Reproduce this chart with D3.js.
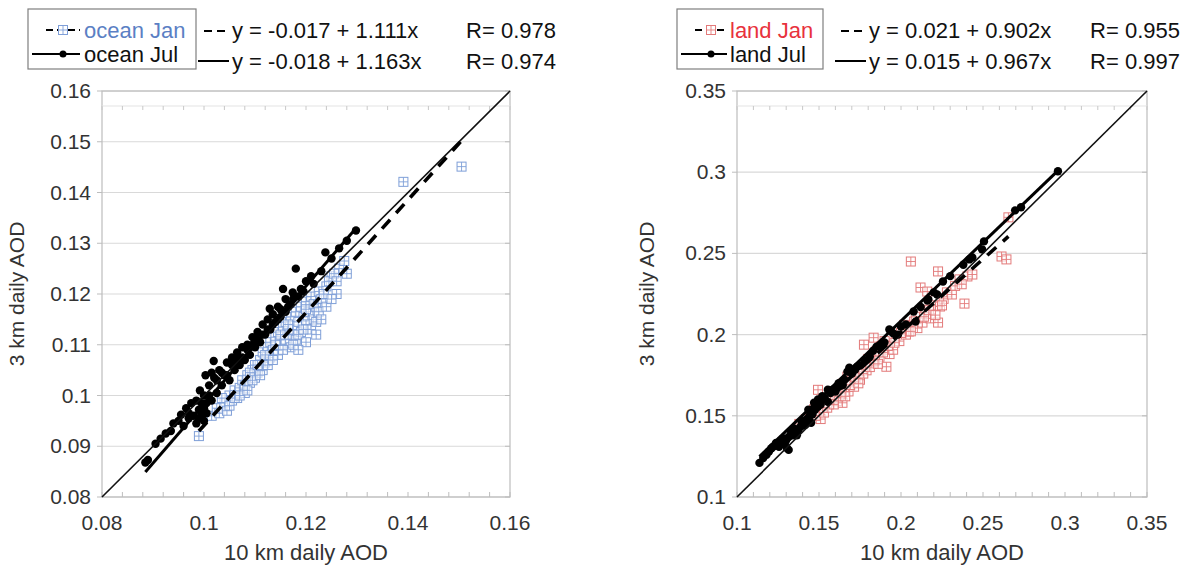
<!DOCTYPE html>
<html>
<head>
<meta charset="utf-8">
<script src="https://cdn.jsdelivr.net/npm/d3@7"></script>
<style>
  body { margin: 0; background: #fff; }
  svg { font-family: "Liberation Sans", Arial, sans-serif; }
</style>
</head>
<body>
<svg id="chart" width="1187" height="568"></svg>
<script>
// ocean, January (x = 10 km AOD, y = 3 km AOD)
const oceanJan = [
  [0.0990, 0.0920], [0.1015, 0.0960], [0.1025, 0.0975], [0.1030, 0.0965], [0.1040, 0.0985],
  [0.1045, 0.0970], [0.1050, 0.1000], [0.1055, 0.0990], [0.1060, 0.1010], [0.1065, 0.0995],
  [0.1070, 0.1015], [0.1075, 0.1030], [0.1080, 0.1005], [0.1085, 0.1040], [0.1090, 0.1025],
  [0.1095, 0.1050], [0.1100, 0.1035], [0.1100, 0.1060], [0.1105, 0.1045], [0.1110, 0.1070],
  [0.1115, 0.1050], [0.1115, 0.1085], [0.1120, 0.1065], [0.1125, 0.1095], [0.1130, 0.1075],
  [0.1130, 0.1105], [0.1135, 0.1090], [0.1140, 0.1115], [0.1145, 0.1080], [0.1145, 0.1125],
  [0.1150, 0.1100], [0.1155, 0.1135], [0.1160, 0.1110], [0.1160, 0.1145], [0.1165, 0.1120],
  [0.1170, 0.1155], [0.1170, 0.1095], [0.1175, 0.1130], [0.1180, 0.1165], [0.1180, 0.1110],
  [0.1185, 0.1145], [0.1190, 0.1175], [0.1190, 0.1125], [0.1195, 0.1155], [0.1200, 0.1185],
  [0.1200, 0.1140], [0.1205, 0.1165], [0.1210, 0.1195], [0.1210, 0.1130], [0.1215, 0.1150],
  [0.1220, 0.1175], [0.1225, 0.1205], [0.1230, 0.1190], [0.1240, 0.1215], [0.1250, 0.1235],
  [0.1260, 0.1200], [0.1265, 0.1250], [0.1275, 0.1265], [0.1280, 0.1240], [0.1391, 0.1421],
  [0.1505, 0.1451], [0.1035, 0.0995], [0.1050, 0.0980], [0.1060, 0.0995], [0.1070, 0.1000],
  [0.1080, 0.1020], [0.1085, 0.1010], [0.1090, 0.1045], [0.1095, 0.1030], [0.1105, 0.1060],
  [0.1110, 0.1040], [0.1120, 0.1080], [0.1125, 0.1060], [0.1135, 0.1070], [0.1140, 0.1100],
  [0.1150, 0.1120], [0.1155, 0.1090], [0.1165, 0.1140], [0.1175, 0.1100], [0.1185, 0.1120],
  [0.1195, 0.1130], [0.1200, 0.1170], [0.1215, 0.1180], [0.1220, 0.1145], [0.1225, 0.1165],
  [0.1235, 0.1200], [0.1245, 0.1225], [0.1255, 0.1240], [0.1260, 0.1225], [0.1230, 0.1150],
  [0.1220, 0.1120], [0.1200, 0.1105], [0.1185, 0.1090], [0.1240, 0.1175], [0.1250, 0.1190]
];
// ocean, July
const oceanJul = [
  [0.0885, 0.0868], [0.0890, 0.0873], [0.0905, 0.0905], [0.0915, 0.0915], [0.0925, 0.0925],
  [0.0935, 0.0930], [0.0940, 0.0945], [0.0950, 0.0950], [0.0955, 0.0962], [0.0960, 0.0940],
  [0.0965, 0.0975], [0.0970, 0.0955], [0.0975, 0.0985], [0.0980, 0.0960], [0.0985, 0.0990],
  [0.0990, 0.0972], [0.0992, 0.1010], [0.0995, 0.0985], [0.1000, 0.1000], [0.1000, 0.0950],
  [0.1003, 0.1040], [0.1005, 0.0965], [0.1010, 0.1020], [0.1015, 0.0990], [0.1019, 0.1068],
  [0.1020, 0.1035], [0.1025, 0.1005], [0.1030, 0.1050], [0.1035, 0.1020], [0.1040, 0.1040],
  [0.1045, 0.1065], [0.1050, 0.1030], [0.1055, 0.1075], [0.1060, 0.1050], [0.1065, 0.1085],
  [0.1070, 0.1060], [0.1075, 0.1095], [0.1080, 0.1070], [0.1085, 0.1100], [0.1090, 0.1080],
  [0.1095, 0.1115], [0.1100, 0.1095], [0.1105, 0.1125], [0.1110, 0.1105], [0.1115, 0.1140],
  [0.1120, 0.1120], [0.1125, 0.1150], [0.1129, 0.1171], [0.1130, 0.1130], [0.1135, 0.1160],
  [0.1140, 0.1145], [0.1145, 0.1175], [0.1150, 0.1155], [0.1155, 0.1210], [0.1160, 0.1165],
  [0.1170, 0.1180], [0.1174, 0.1203], [0.1180, 0.1250], [0.1190, 0.1210], [0.1200, 0.1225],
  [0.1210, 0.1235], [0.1238, 0.1282], [0.1250, 0.1270], [0.1298, 0.1325], [0.0970, 0.0965],
  [0.0985, 0.0945], [0.0990, 0.0955], [0.0995, 0.0960], [0.1000, 0.0975], [0.1005, 0.0985],
  [0.1010, 0.1000], [0.1015, 0.1045], [0.1025, 0.1030], [0.1035, 0.1045], [0.1045, 0.1040],
  [0.1055, 0.1060], [0.1065, 0.1070], [0.1075, 0.1075], [0.1085, 0.1090], [0.1095, 0.1100],
  [0.1105, 0.1110], [0.1115, 0.1120], [0.1125, 0.1130], [0.1135, 0.1140], [0.1145, 0.1150],
  [0.1150, 0.1170], [0.1160, 0.1190], [0.1165, 0.1175], [0.1175, 0.1190], [0.1185, 0.1195],
  [0.1195, 0.1205], [0.1215, 0.1220], [0.1230, 0.1245], [0.1265, 0.1290], [0.1280, 0.1305]
];
// land, January
const landJan = [
  [0.1380, 0.1450], [0.1420, 0.1480], [0.1450, 0.1510], [0.1470, 0.1540], [0.1494, 0.1660],
  [0.1510, 0.1480], [0.1520, 0.1560], [0.1540, 0.1590], [0.1560, 0.1570], [0.1580, 0.1610],
  [0.1600, 0.1640], [0.1610, 0.1590], [0.1630, 0.1660], [0.1643, 0.1580], [0.1650, 0.1700],
  [0.1673, 0.1741], [0.1680, 0.1650], [0.1700, 0.1720], [0.1714, 0.1679], [0.1730, 0.1760],
  [0.1750, 0.1722], [0.1760, 0.1800], [0.1774, 0.1938], [0.1790, 0.1780], [0.1800, 0.1850],
  [0.1820, 0.1820], [0.1833, 0.1981], [0.1850, 0.1900], [0.1869, 0.1864], [0.1880, 0.1930],
  [0.1900, 0.1960], [0.1911, 0.1802], [0.1930, 0.1880], [0.1952, 0.1907], [0.1970, 0.1990],
  [0.1990, 0.1960], [0.2010, 0.2030], [0.2030, 0.2000], [0.2048, 0.2019], [0.2060, 0.2450],
  [0.2080, 0.2080], [0.2100, 0.2040], [0.2119, 0.2290], [0.2131, 0.2074], [0.2149, 0.2154],
  [0.2160, 0.2265], [0.2180, 0.2100], [0.2200, 0.2180], [0.2226, 0.2389], [0.2226, 0.2074],
  [0.2238, 0.2173], [0.2260, 0.2220], [0.2280, 0.2260], [0.2310, 0.2247], [0.2357, 0.2340],
  [0.2387, 0.2191], [0.2405, 0.2358], [0.2435, 0.2370], [0.2613, 0.2481], [0.2643, 0.2463],
  [0.2655, 0.2722], [0.1440, 0.1470], [0.1480, 0.1500], [0.1500, 0.1530], [0.1530, 0.1520],
  [0.1550, 0.1550], [0.1570, 0.1600], [0.1590, 0.1570], [0.1620, 0.1620], [0.1640, 0.1640],
  [0.1660, 0.1620], [0.1690, 0.1690], [0.1720, 0.1740], [0.1740, 0.1700], [0.1770, 0.1760],
  [0.1810, 0.1800], [0.1840, 0.1840], [0.1860, 0.1820], [0.1890, 0.1890], [0.1920, 0.1930],
  [0.1960, 0.1950], [0.2000, 0.2010], [0.2020, 0.2060], [0.2060, 0.2020], [0.2090, 0.2110],
  [0.2140, 0.2110], [0.2170, 0.2150], [0.2210, 0.2120], [0.2250, 0.2180], [0.2330, 0.2300],
  [0.2370, 0.2310]
];
// land, July
const landJul = [
  [0.1137, 0.1210], [0.1180, 0.1260], [0.1210, 0.1300], [0.1238, 0.1333], [0.1256, 0.1309],
  [0.1270, 0.1350], [0.1290, 0.1330], [0.1304, 0.1302], [0.1315, 0.1370], [0.1315, 0.1290],
  [0.1340, 0.1380], [0.1357, 0.1395], [0.1375, 0.1414], [0.1387, 0.1432], [0.1400, 0.1440],
  [0.1417, 0.1444], [0.1430, 0.1480], [0.1435, 0.1537], [0.1452, 0.1457], [0.1460, 0.1510],
  [0.1476, 0.1537], [0.1494, 0.1556], [0.1494, 0.1600], [0.1520, 0.1620], [0.1554, 0.1660],
  [0.1554, 0.1586], [0.1583, 0.1660], [0.1613, 0.1673], [0.1631, 0.1685], [0.1655, 0.1722],
  [0.1673, 0.1772], [0.1685, 0.1796], [0.1720, 0.1784], [0.1732, 0.1802], [0.1780, 0.1840],
  [0.1810, 0.1864], [0.1851, 0.1926], [0.1899, 0.1951], [0.1929, 0.2031], [0.1982, 0.2000],
  [0.2030, 0.2062], [0.2077, 0.2142], [0.2089, 0.2080], [0.2161, 0.2210], [0.2167, 0.2216],
  [0.2220, 0.2247], [0.2256, 0.2327], [0.2417, 0.2463], [0.2435, 0.2475], [0.2494, 0.2525],
  [0.2506, 0.2574], [0.2696, 0.2765], [0.2732, 0.2784], [0.2957, 0.3006], [0.1160, 0.1240],
  [0.1195, 0.1280], [0.1220, 0.1310], [0.1250, 0.1330], [0.1280, 0.1360], [0.1300, 0.1350],
  [0.1330, 0.1400], [0.1350, 0.1420], [0.1365, 0.1380], [0.1395, 0.1460], [0.1410, 0.1470],
  [0.1445, 0.1500], [0.1470, 0.1580], [0.1510, 0.1570], [0.1535, 0.1610], [0.1570, 0.1640],
  [0.1600, 0.1650], [0.1620, 0.1700], [0.1645, 0.1690], [0.1700, 0.1760], [0.1750, 0.1810],
  [0.1830, 0.1900], [0.1870, 0.1930], [0.1950, 0.2010], [0.2000, 0.2050], [0.2120, 0.2170],
  [0.2200, 0.2260], [0.2300, 0.2360], [0.2380, 0.2430]
];

// fit: [intercept, slope, R]
const oceanJanFit = [-0.017, 1.111, 0.978];
const oceanJulFit = [-0.018, 1.163, 0.974];
const landJanFit = [0.021, 0.902, 0.955];
const landJulFit = [0.015, 0.967, 0.997];

const oceanTicksX = [0.08, 0.1, 0.12, 0.14, 0.16];
const oceanTicksY = [0.08, 0.09, 0.1, 0.11, 0.12, 0.13, 0.14, 0.15, 0.16];
const landTicks = [0.1, 0.15, 0.2, 0.25, 0.3, 0.35];

const svg = d3.select('#chart');
const gridCol = '#d9d9d9', frameCol = '#bdbdbd';

function drawPanel(cfg) {
  let x = d3.scaleLinear().domain(cfg.domain).range([cfg.left, cfg.right]);
  let y = d3.scaleLinear().domain(cfg.domain).range([cfg.bottom, cfg.top]);
  let g = svg.append('g');

  // grid lines
  g.selectAll('.grid').data(cfg.ticksY).enter().append('line')
    .attr('x1', cfg.left).attr('x2', cfg.right)
    .attr('y1', d => y(d)).attr('y2', d => y(d))
    .attr('stroke', gridCol).attr('stroke-width', 1.2);

  // frame
  g.append('rect')
    .attr('x', cfg.left).attr('y', cfg.top)
    .attr('width', cfg.right - cfg.left).attr('height', cfg.bottom - cfg.top)
    .attr('fill', 'none').attr('stroke', frameCol).attr('stroke-width', 1.2);

  // faint secondary tick line near the top
  let topLine = cfg.top + 15;
  g.append('line')
    .attr('x1', cfg.left).attr('x2', cfg.right)
    .attr('y1', topLine).attr('y2', topLine)
    .attr('stroke', '#e3e3e3').attr('stroke-width', 1);
  let minor = d3.range(cfg.domain[0], cfg.domain[1] + 1e-9, cfg.minorStep);
  g.selectAll('.mt').data(minor).enter().append('line')
    .attr('x1', d => x(d)).attr('x2', d => x(d))
    .attr('y1', topLine).attr('y2', topLine + 4)
    .attr('stroke', '#c8c8c8');
  // bottom minor ticks
  g.selectAll('.mb').data(minor).enter().append('line')
    .attr('x1', d => x(d)).attr('x2', d => x(d))
    .attr('y1', cfg.bottom).attr('y2', cfg.bottom - 5)
    .attr('stroke', frameCol);
  // side ticks at grid lines
  g.selectAll('.ml').data(cfg.ticksY).enter().append('line')
    .attr('x1', cfg.left - 5).attr('x2', cfg.left)
    .attr('y1', d => y(d)).attr('y2', d => y(d))
    .attr('stroke', frameCol);
  g.selectAll('.mr').data(cfg.ticksY).enter().append('line')
    .attr('x1', cfg.right - 5).attr('x2', cfg.right)
    .attr('y1', d => y(d)).attr('y2', d => y(d))
    .attr('stroke', frameCol);

  // tick labels
  let fmt = d3.format('');
  g.selectAll('.tx').data(cfg.ticksX).enter().append('text')
    .attr('x', d => x(d)).attr('y', cfg.bottom + 33)
    .attr('text-anchor', 'middle').attr('font-size', 21).attr('fill', '#333')
    .text(d => fmt(+d.toFixed(3)));
  g.selectAll('.ty').data(cfg.ticksY).enter().append('text')
    .attr('x', cfg.left - 11).attr('y', d => y(d) + 7)
    .attr('text-anchor', 'end').attr('font-size', 21).attr('fill', '#333')
    .text(d => fmt(+d.toFixed(3)));

  // axis titles
  g.append('text')
    .attr('x', (cfg.left + cfg.right) / 2).attr('y', 560)
    .attr('text-anchor', 'middle').attr('font-size', 22).attr('fill', '#333')
    .text('10 km daily AOD');
  g.append('text')
    .attr('transform', `translate(${cfg.yTitleX},${(cfg.top + cfg.bottom) / 2}) rotate(-90)`)
    .attr('text-anchor', 'middle').attr('font-size', 21).attr('fill', '#333')
    .text('3 km daily AOD');

  // Jan squares
  let sq = g.selectAll('.jan').data(cfg.jan).enter().append('g')
    .attr('transform', d => `translate(${x(d[0])},${y(d[1])})`);
  sq.append('rect').attr('x', -4.5).attr('y', -4.5).attr('width', 9).attr('height', 9)
    .attr('fill', '#fff').attr('fill-opacity', 0.6)
    .attr('stroke', cfg.janCol).attr('stroke-width', 1);
  sq.append('path').attr('d', 'M-4.5,0H4.5M0,-4.5V4.5')
    .attr('stroke', cfg.janCol).attr('stroke-width', 0.9);

  // Jul dots
  g.selectAll('.jul').data(cfg.jul).enter().append('circle')
    .attr('cx', d => x(d[0])).attr('cy', d => y(d[1])).attr('r', 4.2)
    .attr('fill', '#000');

  // 1:1 line
  g.append('line')
    .attr('x1', x(cfg.domain[0])).attr('y1', y(cfg.domain[0]))
    .attr('x2', x(cfg.domain[1])).attr('y2', y(cfg.domain[1]))
    .attr('stroke', '#111').attr('stroke-width', 1.6);

  // regression lines
  let fitLine = (pts, fit) => d3.extent(pts, d => d[0]).map(v => [v, fit[0] + fit[1] * v]);
  let line = d3.line().x(d => x(d[0])).y(d => y(d[1]));
  g.append('path').datum(fitLine(cfg.jan, cfg.janFit)).attr('d', line)
    .attr('fill', 'none').attr('stroke', '#000').attr('stroke-width', 3.6)
    .attr('stroke-dasharray', '12,9');
  g.append('path').datum(fitLine(cfg.jul, cfg.julFit)).attr('d', line)
    .attr('fill', 'none').attr('stroke', '#000').attr('stroke-width', 3);

  // legend box
  let lg = svg.append('g');
  let L = cfg.legend;
  lg.append('rect').attr('x', L.x).attr('y', 9).attr('width', L.w).attr('height', 60)
    .attr('fill', '#fff').attr('stroke', '#7f7f7f').attr('stroke-width', 1.2);
  // row 1: dashed with square
  lg.append('path').attr('d', `M${L.x + L.mk0},30H${L.x + L.mk1}`)
    .attr('stroke', '#000').attr('stroke-width', 2).attr('stroke-dasharray', '7,4');
  let mx = (L.x + L.mk0 + L.x + L.mk1) / 2;
  lg.append('rect').attr('x', mx - 4.5).attr('y', 25.5).attr('width', 9).attr('height', 9)
    .attr('fill', '#fff').attr('stroke', cfg.janCol);
  lg.append('path').attr('d', `M${mx - 4.5},30H${mx + 4.5}M${mx},25.5V34.5`)
    .attr('stroke', cfg.janCol).attr('stroke-width', 0.9);
  lg.append('text').attr('x', L.x + L.tx).attr('y', 38).attr('font-size', 22)
    .attr('fill', cfg.janText).text(cfg.janName);
  // row 2: solid with dot
  lg.append('path').attr('d', `M${L.x + 4},54H${L.x + L.mk1}`)
    .attr('stroke', '#000').attr('stroke-width', 2);
  lg.append('circle').attr('cx', mx).attr('cy', 54).attr('r', 3.5).attr('fill', '#000');
  lg.append('text').attr('x', L.x + L.tx).attr('y', 62).attr('font-size', 22)
    .attr('fill', '#111').text(cfg.julName);

  // equations
  let f3 = d3.format('.3f');
  let eq = fit => `y = ${f3(fit[0]).replace('−', '-')} + ${f3(fit[1])}x`;
  lg.append('path').attr('d', `M${L.eqx - 28},31H${L.eqx - 4}`)
    .attr('stroke', '#000').attr('stroke-width', 2.2).attr('stroke-dasharray', '8,5');
  lg.append('text').attr('x', L.eqx).attr('y', 38).attr('font-size', 22).attr('fill', '#111')
    .text(eq(cfg.janFit));
  lg.append('text').attr('x', L.rx).attr('y', 38).attr('font-size', 22).attr('fill', '#111')
    .attr('text-anchor', 'end').text('R= ' + f3(cfg.janFit[2]));
  lg.append('path').attr('d', `M${L.eqx - 34},61H${L.eqx - 3}`)
    .attr('stroke', '#000').attr('stroke-width', 2);
  lg.append('text').attr('x', L.eqx).attr('y', 69).attr('font-size', 22).attr('fill', '#111')
    .text(eq(cfg.julFit));
  lg.append('text').attr('x', L.rx).attr('y', 69).attr('font-size', 22).attr('fill', '#111')
    .attr('text-anchor', 'end').text('R= ' + f3(cfg.julFit[2]));
}

drawPanel({
  domain: [0.08, 0.16], left: 102, right: 510, top: 91, bottom: 497,
  ticksX: oceanTicksX, ticksY: oceanTicksY, minorStep: 0.004, yTitleX: 24,
  jan: oceanJan, jul: oceanJul, janFit: oceanJanFit, julFit: oceanJulFit,
  janCol: '#7f9fd8', janText: '#5b7fc4', janName: 'ocean Jan', julName: 'ocean Jul',
  legend: { x: 28, w: 168, mk0: 18, mk1: 52, tx: 56, eqx: 232, rx: 556 }
});

drawPanel({
  domain: [0.1, 0.35], left: 737, right: 1147, top: 91, bottom: 497,
  ticksX: landTicks, ticksY: landTicks, minorStep: 0.01, yTitleX: 654,
  jan: landJan, jul: landJul, janFit: landJanFit, julFit: landJulFit,
  janCol: '#e37a7a', janText: '#e8323c', janName: 'land Jan', julName: 'land Jul',
  legend: { x: 677, w: 146, mk0: 18, mk1: 50, tx: 53, eqx: 869, rx: 1180 }
});
</script>
</body>
</html>
